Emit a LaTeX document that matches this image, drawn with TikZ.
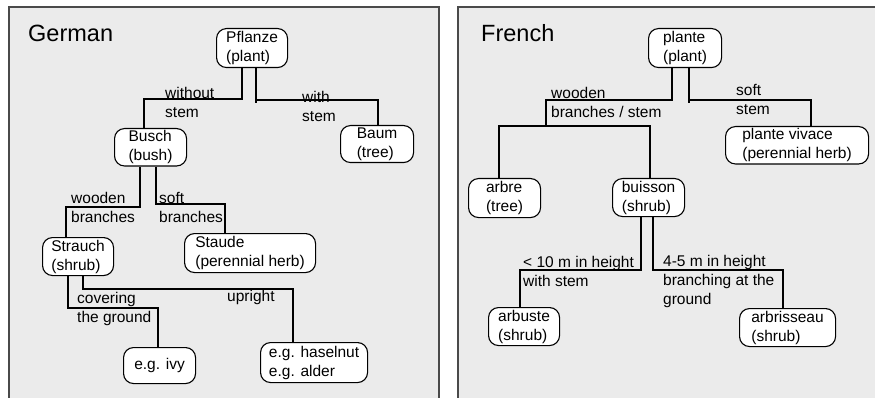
\documentclass[tikz,border=0pt]{standalone}
\usepackage{fontspec}
\setmainfont{Liberation Sans}
\definecolor{panelfill}{HTML}{EBEBEB}
\definecolor{panelline}{HTML}{4A4A4A}
\begin{document}
\begin{tikzpicture}[x=1pt,y=-1pt,
  box/.style={draw=black, line width=1.1pt, fill=white, rounded corners=10pt,
    align=left, inner sep=2pt, anchor=north west, font=\fontsize{15.5}{19}\selectfont},
  lbl/.style={align=left, inner sep=0pt, anchor=west, font=\fontsize{15.5}{19}\selectfont},
  ttl/.style={inner sep=0pt, anchor=west, font=\fontsize{23.5}{28}\selectfont},
  conn/.style={line width=1.2pt, black},
  boldconn/.style={line width=2pt, black},
  panel/.style={draw=panelline, line width=1.6pt, fill=panelfill}]
\useasboundingbox (0,0) rectangle (875,398);
\fill[white] (0,0) rectangle (875,398);
\begin{scope}
\clip (0,0) rectangle (875,398);
\draw[panel] (9,407) -- (9,7) -- (439,7) -- (439,407);
\draw[panel] (458,407) -- (458,7) -- (885,7) -- (885,407);
\end{scope}

% ---------- German ----------
\node[ttl] (german) at (28,33) {German};
\node[box, minimum width=71pt, minimum height=39pt] (pflanze) at (216,28) {Pflanze\\(plant)};
\node[box, minimum width=72pt, minimum height=36pt] (busch) at (114,128) {Busch\\(bush)};
\node[box, minimum width=73pt, minimum height=37pt] (baum) at (340,125) {Baum\\(tree)};
\node[box, minimum width=71pt, minimum height=38pt] (strauch) at (42,237) {Strauch\\(shrub)};
\node[box, minimum width=131pt, minimum height=39pt] (staude) at (184,233) {Staude\\(perennial herb)};
\node[box, minimum width=72pt, minimum height=36pt] (ivy) at (123,347) {e.g. ivy};
\node[box, minimum width=107pt, minimum height=40pt] (hasel) at (260,342) {e.g. haselnut\\e.g. alder};

\draw[conn] (pflanze.south -| 242,0) |- (144,99) -- (busch.north -| 144,0);
\draw[conn] (pflanze.south -| 256,0) -- (256,103);
\draw[conn] (256,100) -| (baum.north -| 378,0);
\draw[conn] (busch.south -| 140,0) |- (66,207) -- (strauch.north -| 66,0);
\draw[conn] (busch.south -| 156,0) |- (225,204) -- (staude.north -| 225,0);
\draw[conn] (strauch.south -| 68,0) |- (158,308) -- (ivy.north -| 158,0);
\draw[conn] (strauch.south -| 83,0) |- (293,289) -- (hasel.north -| 293,0);

\node[lbl] (l1) at (165,102.5) {without\\stem};
\node[lbl] (l2) at (302,106) {with\\stem};
\node[lbl] (l3) at (71,207) {wooden\\branches};
\node[lbl] (l4) at (159,207) {soft\\branches};
\node[lbl] (l5) at (77,309) {covering\\the ground};
\node[lbl] (l6) at (227,297) {upright};

% ---------- French ----------
\node[ttl] (french) at (481,33) {French};
\node[box, minimum width=73pt, minimum height=39pt] (plante) at (648,28) {plante\\(plant)};
\node[box, minimum width=143pt, minimum height=37pt] (vivace) at (725,126) {plante vivace\\(perennial herb)};
\node[box, minimum width=72pt, minimum height=39pt] (arbre) at (468,178) {arbre\\(tree)};
\node[box, minimum width=72pt, minimum height=38pt] (buisson) at (612,178) {buisson\\(shrub)};
\node[box, minimum width=71pt, minimum height=38pt] (arbuste) at (488,307) {arbuste\\(shrub)};
\node[box, minimum width=96pt, minimum height=38pt] (arbrisseau) at (739,308) {arbrisseau\\(shrub)};

\draw[conn] (plante.south -| 672,0) |- (546,100) -- (546,126);
\draw[conn] (arbre.north -| 499,0) |- (650,126) -- (buisson.north -| 650,0);
\draw[conn] (plante.south -| 689,0) -- (689,103);
\draw[conn] (689,100) -| (vivace.north -| 811,0);
\draw[boldconn] (buisson.south -| 641,0) |- (520,270) -- (arbuste.north -| 520,0);
\draw[boldconn] (buisson.south -| 653,0) |- (783,270) -- (arbrisseau.north -| 783,0);

\node[lbl] (r1) at (551,102.5) {wooden\\branches / stem};
\node[lbl] (r2) at (736,99.5) {soft\\stem};
\node[lbl] (r3) at (523,271.5) {< 10 m in height\\with stem};
\node[lbl] (r4) at (663,281) {4-5 m in height\\branching at the\\ground};
\end{tikzpicture}
\end{document}
